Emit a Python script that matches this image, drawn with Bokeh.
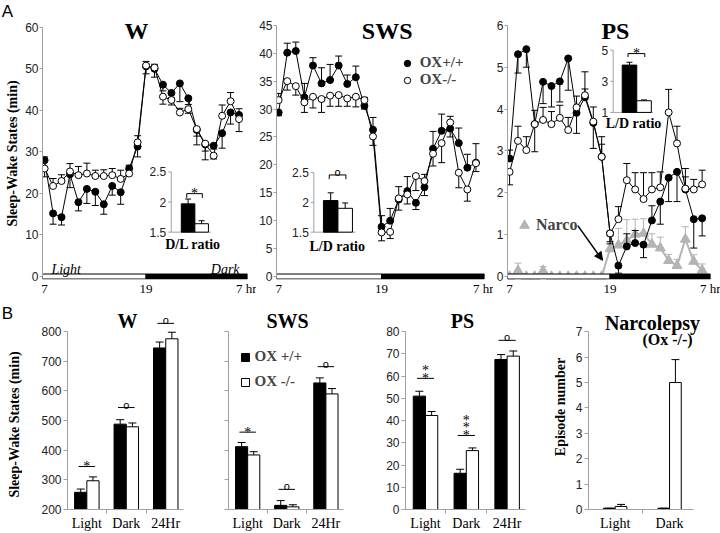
import math
from bokeh.plotting import figure
from bokeh.layouts import row, column
from bokeh.models import (Range1d, FixedTicker, Label, Legend, LegendItem,
                          Arrow, NormalHead)
from bokeh.core.properties import value
from bokeh.embed import file_html
from bokeh.resources import INLINE

SERIF = "Liberation Serif"
SANS = "Liberation Sans"
GRAY_AX = "#a0a0a0"
NARCO_C = "#b4b4b4"

# ------------------------------------------------------------------ DATA (A)
HOURS = list(range(7, 31))
X_TICKS = [7, 19, 31]
X_TICK_LABELS = ["7", "19", "7 hr"]
LIGHT_END = 19
DARK_END = 31

W_WT = [28.0, 15.2, 14.3, 24.6, 17.9, 21.1, 20.4, 17.4, 21.8, 20.3, 26.0, 31.3,
        50.6, 50.0, 46.2, 44.2, 46.5, 42.9, 35.3, 31.8, 31.5, 34.5, 39.5, 38.9]
W_WT_ERR = [0.8, -2.6, -1.9, -3.2, -2.1, -3.5, -3.3, -2.4, -2.2, -2.9, 0.8, -2.5,
            -1.8, -2.0, -1.5, -1.2, -4.4, -1.5, -1.5, -1.6, -0.8, -3.6, -2.8, 1.5]
W_KO = [26.0, 21.8, 23.0, 25.3, 24.4, 24.8, 24.2, 24.2, 24.4, 23.5, 24.8, 32.3,
        50.8, 50.3, 43.3, 42.5, 39.5, 40.3, 35.5, 32.0, 29.1, 38.7, 42.2, 37.9]
W_KO_ERR = [-2.0, 1.8, 1.5, 1.9, 2.1, 2.5, 1.4, 1.5, 1.6, 2.1, 1.0, 1.6,
            1.0, 0.8, -1.8, -1.2, 1.0, -1.0, -3.8, -3.9, -0.8, 2.6, 2.1, -3.0]

SWS_WT = [29.4, 40.1, 40.4, 32.1, 37.8, 34.6, 35.2, 37.8, 34.5, 35.7, 30.6, 26.3,
          8.9, 10.0, 13.8, 15.3, 13.2, 16.0, 22.9, 26.1, 26.5, 23.9, 19.5, 20.4]
SWS_WT_ERR = [-0.6, 1.7, 1.6, 2.5, 1.4, 2.8, 2.8, 1.7, 1.6, 2.0, -0.6, 2.2,
              2.0, 2.2, 2.3, 2.6, -1.2, -1.5, 3.1, 3.0, -1.5, 2.7, 2.4, 3.4]
SWS_KO = [31.6, 35.0, 34.1, 31.2, 32.2, 31.8, 32.4, 32.5, 31.9, 32.2, 31.6, 25.1,
          7.9, 8.0, 14.0, 14.7, 18.0, 17.1, 22.0, 23.9, 27.6, 18.6, 15.6, 20.3]
SWS_KO_ERR = [1.2, -1.6, -1.6, -1.8, -2.0, -2.4, -1.9, -2.0, -1.4, -1.8, 0.5, -1.6,
              -1.5, -1.2, -2.1, -1.7, -2.6, 1.2, -2.2, -3.5, 1.1, -2.7, -2.1, -1.5]

PS_WT = [2.82, 5.31, 5.43, 3.64, 4.65, 4.55, 4.66, 5.21, 3.91, 4.28, 3.67, 2.86,
         1.03, 0.26, 0.72, 0.80, 0.76, 1.34, 1.79, 2.36, 2.50, 2.08, 1.37, 1.39]
PS_WT_ERR = [0.2, -0.45, -0.43, -0.66, -0.52, -0.5, -0.49, -0.76, -0.49, 0.2, -0.61, 0.3,
             -0.25, -0.18, 0.3, 0.3, -0.31, 0.35, -0.54, -0.57, -0.71, 0.3, -0.69, -0.42]
PS_KO = [2.50, 3.24, 3.02, 3.64, 3.74, 3.64, 3.79, 3.50, 4.04, 4.33, 3.70, 2.86,
         1.03, 1.37, 2.30, 2.08, 1.85, 2.08, 2.13, 3.92, 3.18, 2.10, 2.08, 2.20]
PS_KO_ERR = [-0.31, 0.35, 0.32, 0.33, 0.3, 0.3, 0.3, 0.3, 0.27, 0.56, 0.35, 0.48,
             -0.2, 0.3, 0.4, 0.4, 0.63, 0.4, 0.37, 0.55, 0.41, 0.48, 0.24, 0.34]
NARCO = [0.0, 0.14, 0.0, 0.0, 0.14, 0.0, 0.0, 0.0, 0.0, 0.0, 0.0, 0.0,
         0.66, 0.75, 0.86, 1.01, 1.03, 0.77, 0.68, 0.38, 0.26, 0.89, 0.36, 0.15]
NARCO_ERR = [0.0, 0.18, 0.05, 0.05, 0.1, 0.05, 0.05, 0.05, 0.05, 0.05, 0.05, 0.05,
             0.3, 0.4, 0.5, 0.36, 0.35, 0.25, 0.26, 0.15, 0.15, 0.3, 0.16, 0.15]

W_YTICKS = [0, 10, 20, 30, 40, 50, 60]
SWS_YTICKS = [0, 5, 10, 15, 20, 25, 30, 35, 40, 45]
PS_YTICKS = [0, 1, 2, 3, 4, 5, 6]

W_IN = [1.97, 1.64]
W_IN_ERR = [0.08, 0.05]
W_IN_TICKS = [1.5, 2.0, 2.5]
W_IN_TICK_LABELS = ["1.5", "2", "2.5"]
W_IN_LABEL = "D/L ratio"
W_IN_SIG = "*"
SWS_IN = [2.03, 1.90]
SWS_IN_ERR = [0.13, 0.09]
SWS_IN_TICKS = [1.5, 2.0, 2.5]
SWS_IN_TICK_LABELS = ["1.5", "2", "2.5"]
SWS_IN_LABEL = "L/D ratio"
SWS_IN_SIG = "o"
PS_IN = [4.04, 1.75]
PS_IN_ERR = [0.18, 0.05]
PS_IN_TICKS = [1, 3, 5]
PS_IN_TICK_LABELS = ["1", "3", "5"]
PS_IN_LABEL = "L/D ratio"
PS_IN_SIG = "*"

LEG_A = ["OX+/+", "OX-/-"]
LEG_B = ["OX +/+", "OX -/-"]
NARCO_LABEL = "Narco"

# ------------------------------------------------------------------ DATA (B)
CATS = ["Light", "Dark", "24Hr"]
BW_WT = [258, 488, 745]
BW_WT_ERR = [11, 15, 20]
BW_KO = [297, 479, 776]
BW_KO_ERR = [13, 13, 22]
BW_SIG = ["*", "o", "o"]
BW_SIG_Y = [345, 544, 828]

BSWS_WT = [412, 214, 627]
BSWS_WT_ERR = [14, 16, 17]
BSWS_KO = [384, 209, 590]
BSWS_KO_ERR = [11, 7, 18]
BSWS_SIG = ["*", "o", "o"]
BSWS_SIG_Y = [461, 268, 682]

BPS_WT = [51.0, 16.3, 67.5]
BPS_WT_ERR = [2.2, 1.8, 2.2]
BPS_KO = [42.3, 26.5, 69.0]
BPS_KO_ERR = [1.8, 1.2, 2.3]
BPS_SIG = ["**", "***", "o"]
BPS_SIG_Y = [59.0, 33.3, 76.1]

NARC_CATS = ["Light", "Dark"]
NARC_WT = [0.05, 0.05]
NARC_WT_ERR = [0.0, 0.0]
NARC_KO = [0.12, 5.0]
NARC_KO_ERR = [0.08, 0.9]

BWS_YTICKS = [200, 300, 400, 500, 600, 700, 800]
BPS_YTICKS = [0, 10, 20, 30, 40, 50, 60, 70, 80]
NARC_YTICKS = [0, 1, 2, 3, 4, 5, 6, 7]

YLABEL = "Sleep-Wake States (min)"
YLABEL_N = "Episode number"

# ------------------------------------------------------------------ LAYOUT
PAGE_H = 533
LEFT_W = 22
TOP_OY, TOP_H = 0, 298
BOT_OY, BOT_H = 298, 235
Y0_PX = 278          # canvas y of value 0 in the top row
B_AXTOP_PX = 331.7   # canvas y of the top tick in the bottom row
B_AXBOT_PX = 513     # canvas y of the bottom tick in the bottom row
XR_TOP = (6.75, 31.0)


class Panel:
    def __init__(self, ox, oy, w, h, box, xr, yr):
        self.box = box
        self.xr = xr
        self.yr = yr
        fl, fr, ft, fb = box
        p = figure(width=w, height=h, x_range=Range1d(*xr), y_range=Range1d(*yr),
                   min_border_left=int(round(fl - ox)), min_border_right=int(round(ox + w - fr)),
                   min_border_top=int(round(ft - oy)), min_border_bottom=int(round(oy + h - fb)),
                   toolbar_location=None, output_backend="svg", title=None)
        p.grid.visible = False
        p.outline_line_color = None
        p.background_fill_color = "white"
        p.border_fill_color = "white"
        self.p = p

    def dx(self, px):
        fl, fr, ft, fb = self.box
        return self.xr[0] + (px - fl) * (self.xr[1] - self.xr[0]) / (fr - fl)

    def dy(self, py):
        fl, fr, ft, fb = self.box
        return self.yr[1] - (py - ft) * (self.yr[1] - self.yr[0]) / (fb - ft)

    def label(self, px, py, text, size, font=SERIF, style="bold", align="center",
              baseline="middle", angle=0.0):
        self.p.add_layout(Label(x=self.dx(px), y=self.dy(py), text=text, text_font=font,
                                text_font_size=f"{size}px", text_font_style=style,
                                text_align=align, text_baseline=baseline, angle=angle,
                                text_color="black"))


def style_y(p, ticks, bounds, labels=True, tick_out=3, label=None, standoff=2, lstand=2):
    ax = p.yaxis[0]
    ax.ticker = FixedTicker(ticks=ticks)
    ax.bounds = bounds
    ax.axis_line_color = GRAY_AX
    ax.major_tick_line_color = GRAY_AX
    ax.major_tick_in = 0
    ax.major_tick_out = tick_out
    ax.minor_tick_line_color = None
    ax.major_label_text_font = SANS
    ax.major_label_text_font_size = "12px"
    ax.major_label_text_color = "#222222"
    ax.major_label_standoff = lstand
    if not labels:
        ax.major_label_overrides = {t: "" for t in ticks}
    if label:
        ax.axis_label = label
        ax.axis_label_text_font = SERIF
        ax.axis_label_text_font_style = "bold"
        ax.axis_label_text_font_size = "14px"
        ax.axis_label_text_color = "black"
        ax.axis_label_standoff = standoff


def top_panel(ox, w, box, axtop_px, ytop, yticks):
    fl, fr, ft, fb = box
    vpp = ytop / (Y0_PX - axtop_px)
    yr = (-(fb - Y0_PX) * vpp, ytop + (axtop_px - ft) * vpp)
    P = Panel(ox, TOP_OY, w, TOP_H, box, XR_TOP, yr)
    p = P.p
    style_y(p, yticks, (0, ytop), lstand=1)
    ax = p.xaxis[0]
    ax.ticker = FixedTicker(ticks=X_TICKS)
    ax.major_label_overrides = dict(zip(X_TICKS, X_TICK_LABELS))
    ax.axis_line_color = None
    ax.major_tick_line_color = None
    ax.minor_tick_line_color = None
    ax.major_tick_out = 0
    ax.major_label_standoff = 1
    ax.major_label_text_font = SERIF
    ax.major_label_text_font_size = "13px"
    ax.major_label_text_color = "black"
    return P


def draw_err_series(p, x, y, e, color="black", lw=1.0, cap=7):
    tops = [v + d for v, d in zip(y, e)]
    p.line(x, y, line_color=color, line_width=lw)
    p.segment(x0=x, y0=y, x1=x, y1=tops, line_color=color, line_width=1)
    p.scatter(x, tops, marker="dash", size=cap, line_color=color, line_width=1)


def draw_markers(p, x, y, fill, color="black", marker="circle", size=7):
    return p.scatter(x, y, marker=marker, size=size, fill_color=fill,
                     line_color=color, line_width=1)


def phase_bar(p):
    x0 = [XR_TOP[0], LIGHT_END]
    x1 = [LIGHT_END, DARK_END]
    p.rect(x=[(a + b) / 2 for a, b in zip(x0, x1)], y=[0, 0],
           width=[b - a for a, b in zip(x0, x1)], height=5, height_units="screen",
           fill_color=["white", "black"], line_color="black", line_width=1)


def sig_text(p, xs, ys, syms, kw=None):
    kw = kw or {}
    sx, sy, so = [], [], []
    ox_, oy_ = [], []
    for x, y, s in zip(xs, ys, syms):
        for k, ch in enumerate(s):
            if ch == "*":
                sx.append(x); sy.append(y); so.append(-7.5 * k)
            else:
                ox_.append(x); oy_.append(y)
    if sx:
        p.text(x=sx, y=sy, text=["*"] * len(sx), y_offset=so, text_align="center",
               text_baseline="alphabetic", text_font=value(SERIF),
               text_font_size=value("14px"), text_color="#000000", **kw)
    if ox_:
        p.text(x=ox_, y=oy_, text=["o"] * len(ox_), y_offset=-3, text_align="center",
               text_baseline="alphabetic", text_font=value(SANS),
               text_font_size=value("11px"), text_color="#000000", **kw)


def inset(P, geo, ticks, tick_labels, vals, errs, label, sym, bracket):
    p = P.p
    fl, fr, ft, fb = P.box
    ax_px, c0_px, u, top_px, top_v, bot_px, bot_v, end_px, lab_px, lab_dy = geo
    vpp = (top_v - bot_v) / (bot_px - top_px)
    p.extra_x_ranges = {"ix": Range1d((fl - c0_px) / u, (fr - c0_px) / u)}
    p.extra_y_ranges = {"iy": Range1d(bot_v - (fb - bot_px) * vpp,
                                      top_v + (top_px - ft) * vpp)}
    kw = dict(x_range_name="ix", y_range_name="iy")
    ax = (ax_px - c0_px) / u
    xe = (end_px - c0_px) / u
    tl = 3.0 / u
    p.segment(x0=[ax, ax], y0=[bot_v, bot_v], x1=[ax, xe], y1=[ticks[-1], bot_v],
              line_color=GRAY_AX, **kw)
    p.segment(x0=[ax] * len(ticks), y0=ticks, x1=[ax - tl] * len(ticks), y1=ticks,
              line_color=GRAY_AX, **kw)
    p.text(x=[ax] * len(ticks), y=ticks, text=tick_labels, x_offset=-5,
           text_align="right", text_baseline="middle", text_font=value(SANS),
           text_font_size=value("12px"), text_color="#222222", **kw)
    xs = list(range(len(vals)))
    p.vbar(x=xs, top=vals, bottom=bot_v, width=1.0, fill_color=["black", "white"],
           line_color="black", **kw)
    tops = [v + e for v, e in zip(vals, errs)]
    p.segment(x0=xs, y0=vals, x1=xs, y1=tops, line_color="black", **kw)
    p.scatter(xs, tops, marker="dash", size=6, line_color="black", **kw)
    b_top, b_leg = bracket
    b0, b1 = -0.1, 1.05
    p.line(x=[b0, b0, b1, b1], y=[b_leg, b_top, b_top, b_leg], line_color="black", **kw)
    sig_text(p, [(b0 + b1) / 2], [b_top], [sym], kw)
    p.text(x=[(lab_px - c0_px) / u], y=[bot_v], text=[label], y_offset=lab_dy,
           text_align="center", text_baseline="middle", text_font=value(SERIF),
           text_font_style=value("bold"), text_font_size=value("14px"),
           text_color="black", **kw)


def bottom_panel(ox, w, box, xr, ticks, labels=True, label=None, standoff=2):
    fl, fr, ft, fb = box
    bottom, top = ticks[0], ticks[-1]
    vpp = (top - bottom) / (B_AXBOT_PX - B_AXTOP_PX)
    yr = (bottom - (fb - B_AXBOT_PX) * vpp, top + (B_AXTOP_PX - ft) * vpp)
    P = Panel(ox, BOT_OY, w, BOT_H, box, xr, yr)
    style_y(P.p, ticks, (bottom, top), labels=labels, tick_out=4, label=label,
            standoff=standoff)
    return P


def bottom_x(P, cats, xbounds):
    ax = P.p.xaxis[0]
    n = len(cats)
    ax.ticker = FixedTicker(ticks=list(range(n)), minor_ticks=[i + 0.5 for i in range(n - 1)])
    ax.major_label_overrides = {i: c for i, c in enumerate(cats)}
    ax.bounds = xbounds
    ax.axis_line_color = GRAY_AX
    ax.major_tick_line_color = None
    ax.major_tick_in = 0
    ax.major_tick_out = 0
    ax.minor_tick_line_color = GRAY_AX
    ax.minor_tick_in = 0
    ax.minor_tick_out = 4
    ax.major_label_standoff = 2
    ax.major_label_text_font = SERIF
    ax.major_label_text_font_size = "14px"
    ax.major_label_text_color = "black"


def bars(p, wt, wt_e, ko, ko_e, bw, base):
    xs = list(range(len(wt)))
    xw = [i - bw / 2 for i in xs]
    xk = [i + bw / 2 for i in xs]
    r1 = p.vbar(x=xw, top=wt, bottom=base, width=bw, fill_color="black", line_color="black")
    r2 = p.vbar(x=xk, top=ko, bottom=base, width=bw, fill_color="white", line_color="black")
    for xx, v, e in ((xw, wt, wt_e), (xk, ko, ko_e)):
        t = [a + b for a, b in zip(v, e)]
        p.segment(x0=xx, y0=v, x1=xx, y1=t, line_color="black")
        p.scatter(xx, t, marker="dash", size=8, line_color="black")
    return r1, r2


def sig_marks(p, ys, syms, half=0.21):
    xs = list(range(len(ys)))
    p.segment(x0=[x - half for x in xs], y0=ys, x1=[x + half for x in xs], y1=ys,
              line_color="black")
    sig_text(p, xs, ys, syms)


def plain_legend(items, loc, gw, gh, standoff, spacing, size):
    lg = Legend(items=items, location=loc)
    lg.label_text_font = SERIF
    lg.label_text_font_style = "bold"
    lg.label_text_font_size = f"{size}px"
    lg.border_line_color = None
    lg.background_fill_alpha = 0
    lg.padding = 0
    lg.margin = 0
    lg.spacing = spacing
    lg.glyph_width = gw
    lg.glyph_height = gh
    lg.label_height = gh
    lg.label_standoff = standoff
    return lg


# ------------------------------------------------------------------ LEFT STRIP
side = figure(width=LEFT_W, height=PAGE_H, x_range=Range1d(0, LEFT_W),
              y_range=Range1d(PAGE_H, 0), x_axis_type=None, y_axis_type=None,
              min_border=0, toolbar_location=None, output_backend="svg", title=None)
side.grid.visible = False
side.outline_line_color = None
for tx, ty, txt, sz, fnt, sty, ang in (
        (7, 11, "A", 17, SANS, "normal", 0.0),
        (12, 153, YLABEL, 14, SERIF, "bold", math.pi / 2),
        (7, 313, "B", 17, SANS, "normal", 0.0),
        (14, 424, YLABEL, 14, SERIF, "bold", math.pi / 2)):
    side.add_layout(Label(x=tx, y=ty, text=txt, text_font=fnt, text_font_size=f"{sz}px",
                          text_font_style=sty, text_align="center", text_baseline="middle",
                          angle=ang, text_color="black"))

# ------------------------------------------------------------------ ROW A
AW = top_panel(22, 234, (40, 247, 2, 281), 27, 60, W_YTICKS)
p = AW.p
draw_err_series(p, HOURS, W_WT, W_WT_ERR)
draw_err_series(p, HOURS, W_KO, W_KO_ERR)
draw_markers(p, HOURS, W_WT, "black")
draw_markers(p, HOURS, W_KO, "white")
phase_bar(p)
inset(AW, (170, 187, 13.7, 172.7, 2.5, 233.3, 1.5, 210, 192, 12),
      W_IN_TICKS, W_IN_TICK_LABELS, W_IN, W_IN_ERR, W_IN_LABEL, W_IN_SIG, (2.14, 2.07))
AW.label(135, 31, "W", 24)
AW.label(49, 271, "Light", 14, style="italic", align="left")
AW.label(239, 271, "Dark", 14, style="italic", align="right")

AS = top_panel(256, 237, (276, 484, 2, 281), 25, 45, SWS_YTICKS)
p = AS.p
draw_err_series(p, HOURS, SWS_WT, SWS_WT_ERR)
draw_err_series(p, HOURS, SWS_KO, SWS_KO_ERR)
r_wt = draw_markers(p, HOURS, SWS_WT, "black")
r_ko = draw_markers(p, HOURS, SWS_KO, "white")
phase_bar(p)
inset(AS, (313.3, 330.2, 14.5, 173.3, 2.5, 233.3, 1.5, 355, 336.7, 14),
      SWS_IN_TICKS, SWS_IN_TICK_LABELS, SWS_IN, SWS_IN_ERR, SWS_IN_LABEL, SWS_IN_SIG,
      (2.46, 2.39))
AS.label(386.7, 31, "SWS", 24)
p.add_layout(plain_legend([LegendItem(label=LEG_A[0], renderers=[r_wt]),
                           LegendItem(label=LEG_A[1], renderers=[r_ko])],
                          (398.7 - 276, 281 - 90), 16, 16, 5, 0, 15))

AP = top_panel(493, 227, (505, 710, 2, 281), 25, 6, PS_YTICKS)
p = AP.p
draw_err_series(p, HOURS, NARCO, NARCO_ERR, color=NARCO_C, lw=2)
r_na = draw_markers(p, HOURS, NARCO, NARCO_C, color=NARCO_C, marker="triangle", size=10)
draw_err_series(p, HOURS, PS_WT, PS_WT_ERR)
draw_err_series(p, HOURS, PS_KO, PS_KO_ERR)
draw_markers(p, HOURS, PS_WT, "black")
draw_markers(p, HOURS, PS_KO, "white")
phase_bar(p)
inset(AP, (611.7, 628.2, 14.7, 50, 5, 112.7, 1, 652, 632.3, 11),
      PS_IN_TICKS, PS_IN_TICK_LABELS, PS_IN, PS_IN_ERR, PS_IN_LABEL, PS_IN_SIG, (4.78, 4.56))
AP.label(614, 31, "PS", 24)
p.add_layout(plain_legend([LegendItem(label=NARCO_LABEL, renderers=[r_na])],
                          (510 - 505, 281 - 239), 24, 24, 0, 0, 16))
p.add_layout(Arrow(end=NormalHead(size=8, fill_color="black", line_color="black"),
                   x_start=AP.dx(576), y_start=AP.dy(226.7),
                   x_end=AP.dx(601), y_end=AP.dy(261.7), line_width=1.5))

# ------------------------------------------------------------------ ROW B
XR_B3 = (-0.49, 2.45)

BW = bottom_panel(22, 173, (67, 183, 304, 513), XR_B3, BWS_YTICKS)
bottom_x(BW, CATS, XR_B3)
bars(BW.p, BW_WT, BW_WT_ERR, BW_KO, BW_KO_ERR, 0.31, BWS_YTICKS[0])
sig_marks(BW.p, BW_SIG_Y, BW_SIG)
BW.label(127, 321, "W", 20)

BS = bottom_panel(195, 185, (228, 343, 304, 513), XR_B3, BWS_YTICKS, labels=False)
bottom_x(BS, CATS, XR_B3)
rb1, rb2 = bars(BS.p, BSWS_WT, BSWS_WT_ERR, BSWS_KO, BSWS_KO_ERR, 0.31, BWS_YTICKS[0])
sig_marks(BS.p, BSWS_SIG_Y, BSWS_SIG)
BS.label(287, 321, "SWS", 20)
BS.p.add_layout(plain_legend([LegendItem(label=LEG_B[0], renderers=[rb1]),
                              LegendItem(label=LEG_B[1], renderers=[rb2])],
                             (239.5 - 228, 513 - 394), 10, 10, 5, 8, 15))

BP = bottom_panel(380, 160, (405, 525, 304, 513), XR_B3, BPS_YTICKS)
bottom_x(BP, CATS, XR_B3)
bars(BP.p, BPS_WT, BPS_WT_ERR, BPS_KO, BPS_KO_ERR, 0.3, BPS_YTICKS[0])
sig_marks(BP.p, BPS_SIG_Y, BPS_SIG)
BP.label(462, 321, "PS", 20)

XR_BN_AX = (-0.49, 1.44)
BN_BOX = (588, 716, 304, 513)
xr_bn = (XR_BN_AX[0], XR_BN_AX[0] + (BN_BOX[1] - BN_BOX[0]) * (XR_BN_AX[1] - XR_BN_AX[0]) / (693 - 588))
BN = bottom_panel(540, 180, BN_BOX, xr_bn, NARC_YTICKS, label=YLABEL_N, standoff=5)
bottom_x(BN, NARC_CATS, XR_BN_AX)
bars(BN.p, NARC_WT, NARC_WT_ERR, NARC_KO, NARC_KO_ERR, 0.215, NARC_YTICKS[0])
BN.label(652, 323, "Narcolepsy", 20)
BN.label(667, 340, "(Ox -/-)", 16)

grid = column(row(AW.p, AS.p, AP.p), row(BW.p, BS.p, BP.p, BN.p))
layout = row(side, grid)
open("out.html", "w").write(file_html(layout, INLINE))
